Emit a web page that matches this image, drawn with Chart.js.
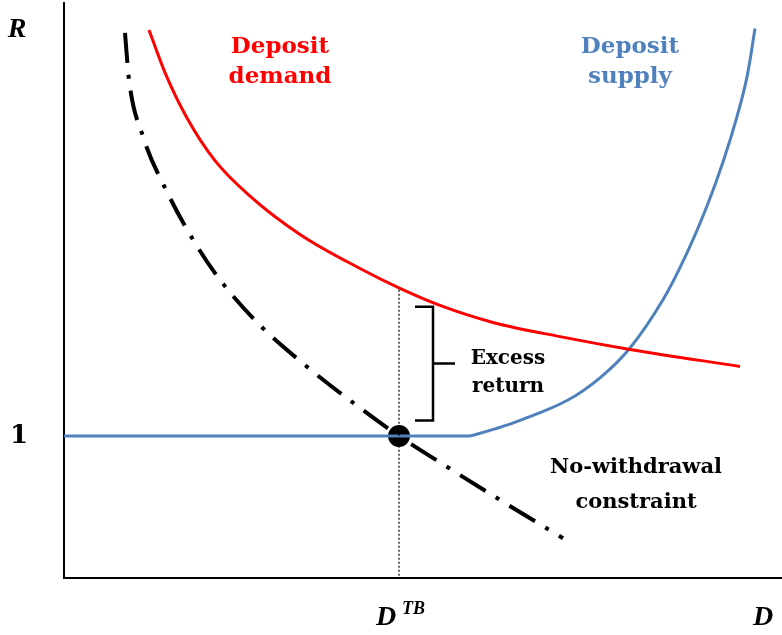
<!DOCTYPE html>
<html>
<head>
<meta charset="utf-8">
<script src="https://cdn.jsdelivr.net/npm/chart.js@4/dist/chart.umd.min.js"></script>
<style>
  body { margin: 0; background: #fff; }
  #wrap { width: 782px; height: 635px; }
</style>
</head>
<body>
<div id="wrap"><canvas id="chart" width="782" height="635"></canvas></div>
<script>
// Deposit demand (red)
const demandD = [0.85, 1.01, 1.23, 1.51, 1.86, 2.36, 2.96, 3.36, 3.76, 4.29, 4.96, 5.66, 6.76];
const demandR = [3.86, 3.56, 3.24, 2.94, 2.69, 2.42, 2.18, 2.04, 1.92, 1.80, 1.70, 1.61, 1.49];

// Deposit supply (blue): flat at R = 1, then rising
const supplyD = [0, 4.06, 4.31, 4.56, 5.03, 5.36, 5.66, 5.99, 6.23, 6.43, 6.59, 6.73, 6.83, 6.91];
const supplyR = [1.00, 1.00, 1.05, 1.11, 1.25, 1.41, 1.62, 1.96, 2.29, 2.62, 2.93, 3.25, 3.53, 3.87];

// No-withdrawal constraint (dash-dot)
const constraintD = [0.61, 0.65, 0.79, 1.03, 1.31, 1.56, 1.96, 2.41, 2.88, 3.35, 3.86, 4.36, 4.99];
const constraintR = [3.84, 3.51, 3.11, 2.72, 2.36, 2.10, 1.78, 1.50, 1.24, 1.00, 0.77, 0.55, 0.28];

// equilibrium point D^TB
const eqD = 3.35;
const eqR = 1.00;

// bracket marking the excess return
const bracketD = [3.51, 3.69, 3.69, 3.91, 3.69, 3.69, 3.51];
const bracketR = [1.91, 1.91, 1.51, 1.51, 1.51, 1.11, 1.11];

// tick labels
const yTickLabel = '1';
const xTickLabel = 'D';
const xTickSup = 'TB';
const xAxisLabel = 'D';
const yAxisLabel = 'R';

function pts(xs, ys) {
    return xs.map((x, i) => ({ x: x, y: ys[i] }));
}

const notes = [
    { lines: ['Deposit', 'demand'], color: '#ff0000', d: 2.16, r: [3.70, 3.49], size: 23 },
    { lines: ['Deposit', 'supply'], color: '#4f81bd', d: 5.66, r: [3.70, 3.49], size: 23 },
    { lines: ['Excess', 'return'], color: '#000000', d: 4.44, r: [1.51, 1.31], size: 20 },
    { lines: ['No-withdrawal', 'constraint'], color: '#000000', d: 5.72, r: [0.74, 0.49], size: 21 }
];

const textPlugin = {
    id: 'texts',
    afterDraw(chart) {
        const ctx = chart.ctx;
        const xs = chart.scales.x;
        const ys = chart.scales.y;
        ctx.save();
        ctx.textAlign = 'center';
        ctx.textBaseline = 'alphabetic';
        notes.forEach(n => {
            ctx.fillStyle = n.color;
            ctx.font = 'bold ' + n.size + 'px "DejaVu Serif"';
            n.lines.forEach((line, i) => {
                ctx.fillText(line, xs.getPixelForValue(n.d), ys.getPixelForValue(n.r[i]));
            });
        });

        ctx.fillStyle = '#000';
        // axis names
        ctx.font = 'bold italic 28px "Liberation Serif"';
        ctx.textBaseline = 'middle';
        ctx.fillText(yAxisLabel, 17, ys.getPixelForValue(3.86));
        ctx.textBaseline = 'alphabetic';
        ctx.fillText(xAxisLabel, 763, 625);

        // y tick "1"
        ctx.font = 'bold 26px "DejaVu Serif"';
        ctx.textBaseline = 'middle';
        ctx.fillText(yTickLabel, 19, ys.getPixelForValue(1));

        // x tick D^TB
        ctx.textBaseline = 'alphabetic';
        ctx.textAlign = 'left';
        const px = xs.getPixelForValue(eqD);
        ctx.font = 'bold italic 28px "Liberation Serif"';
        ctx.fillText(xTickLabel, px - 23, 625);
        ctx.font = 'bold italic 18px "Liberation Serif"';
        ctx.fillText(xTickSup, px + 3, 614);
        ctx.restore();
    }
};

const lineBase = { pointRadius: 0, fill: false };

new Chart(document.getElementById('chart'), {
    type: 'line',
    data: {
        datasets: [
            Object.assign({
                data: pts([eqD, eqD], [2.03, 0]),
                borderColor: '#000',
                borderWidth: 1.2,
                borderDash: [2, 2],
                tension: 0
            }, lineBase),
            Object.assign({
                data: pts(bracketD, bracketR),
                borderColor: '#000',
                borderWidth: 2.5,
                tension: 0
            }, lineBase),
            Object.assign({
                data: pts(demandD, demandR),
                borderColor: '#ff0000',
                borderWidth: 3,
                cubicInterpolationMode: 'monotone'
            }, lineBase),
            Object.assign({
                data: pts(supplyD.slice(0, 2), supplyR.slice(0, 2)),
                borderColor: '#4f81bd',
                borderWidth: 3,
                tension: 0
            }, lineBase),
            Object.assign({
                data: pts(supplyD.slice(1), supplyR.slice(1)),
                borderColor: '#4f81bd',
                borderWidth: 3,
                tension: 0.4
            }, lineBase),
            Object.assign({
                data: pts(constraintD, constraintR),
                borderColor: '#000',
                borderWidth: 4,
                borderDash: [30, 12, 4, 12],
                cubicInterpolationMode: 'monotone'
            }, lineBase),
            {
                data: [{ x: eqD, y: eqR }],
                showLine: false,
                pointRadius: 11,
                pointBackgroundColor: '#000',
                pointBorderColor: '#000',
                pointBorderWidth: 0
            }
        ]
    },
    options: {
        responsive: false,
        animation: false,
        layout: { autoPadding: false, padding: { left: 64, right: 0, top: 3, bottom: 57 } },
        plugins: { legend: { display: false }, tooltip: { enabled: false } },
        scales: {
            x: {
                type: 'linear',
                min: 0,
                max: 7.18,
                grid: { display: false, drawTicks: false },
                ticks: { display: false },
                border: { display: true, color: '#000', width: 2 }
            },
            y: {
                type: 'linear',
                min: 0,
                max: 4.05,
                grid: { display: false, drawTicks: false },
                ticks: { display: false },
                border: { display: true, color: '#000', width: 2 }
            }
        }
    },
    plugins: [textPlugin]
});
</script>
</body>
</html>
